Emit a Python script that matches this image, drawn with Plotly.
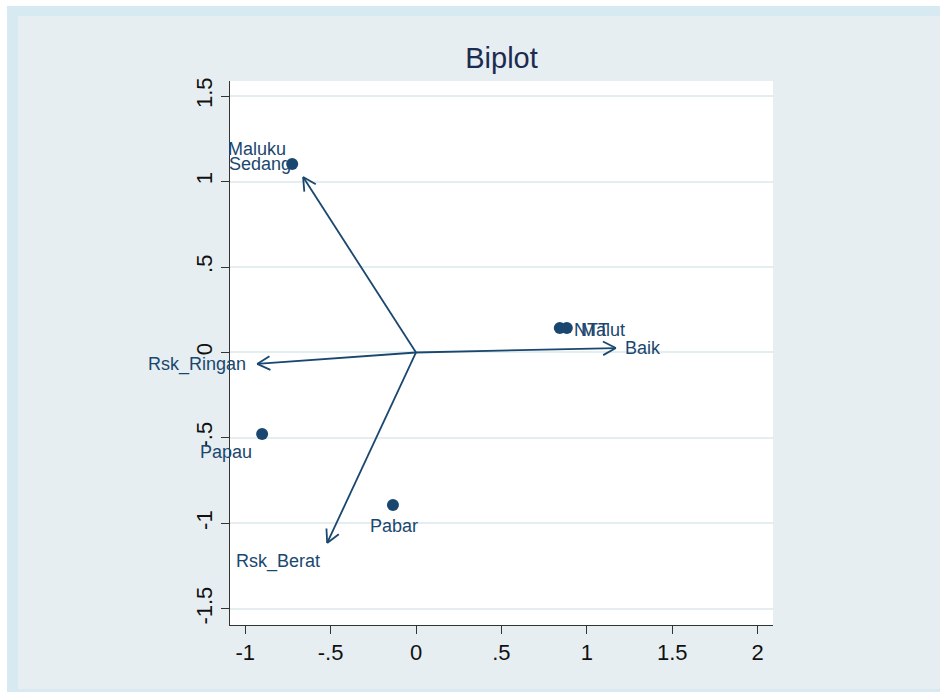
import numpy as np
import plotly.graph_objects as go

# ---- data ----
obs_names = ["Maluku", "NTT", "Malut", "Papau", "Pabar"]
obs_x = [-0.725, 0.842, 0.883, -0.901, -0.135]
obs_y = [1.102, 0.143, 0.143, -0.477, -0.892]

var_names = ["Baik", "Sedang", "Rsk_Ringan", "Rsk_Berat"]
var_x = [1.170, -0.661, -0.930, -0.520]
var_y = [0.026, 1.026, -0.067, -1.114]

x_tickvals = [-1, -0.5, 0, 0.5, 1, 1.5, 2]
x_ticktext = ["-1", "-.5", "0", ".5", "1", "1.5", "2"]
y_tickvals = [-1.5, -1, -0.5, 0, 0.5, 1, 1.5]
y_ticktext = ["-1.5", "-1", "-.5", "0", ".5", "1", "1.5"]

# ---- label placement (style) : (xanchor, yanchor, xshift, yshift) ----
obs_label_style = {
    "Maluku": ("right", "middle", -4, 15),
    "NTT": ("left", "middle", 12, -2),
    "Malut": ("left", "middle", 12, -2),
    "Papau": ("right", "middle", -8, -18),
    "Pabar": ("center", "middle", 1, -21),
}
var_label_style = {
    "Baik": ("left", "middle", 7, 0),
    "Sedang": ("right", "middle", -10, 13),
    "Rsk_Ringan": ("right", "middle", -9, -1),
    "Rsk_Berat": ("right", "middle", -5, -19),
}

NAVY = "#1a476f"
FONT = "Liberation Sans, Arial, Helvetica, sans-serif"

fig = go.Figure()

# arrows (shafts)
for vx, vy in zip(var_x, var_y):
    fig.add_trace(go.Scatter(x=[0, vx], y=[0, vy], mode="lines",
                             line=dict(color=NAVY, width=1.8),
                             hoverinfo="skip", showlegend=False))
    # open V arrowhead derived from the vector direction
    L = 0.085
    ang = np.deg2rad(28)
    d = np.array([vx, vy]) / np.hypot(vx, vy)
    back = -d
    hx, hy = [], []
    for s in (ang, -ang):
        r = np.array([back[0] * np.cos(s) - back[1] * np.sin(s),
                      back[0] * np.sin(s) + back[1] * np.cos(s)])
        hx += [vx + L * r[0], vx, None]
        hy += [vy + L * r[1], vy, None]
    fig.add_trace(go.Scatter(x=hx, y=hy, mode="lines",
                             line=dict(color=NAVY, width=1.8),
                             hoverinfo="skip", showlegend=False))

# observation points
fig.add_trace(go.Scatter(x=obs_x, y=obs_y, mode="markers",
                         marker=dict(color=NAVY, size=12),
                         hoverinfo="text", text=obs_names, showlegend=False))

annotations = []
for n, x, y in zip(obs_names, obs_x, obs_y):
    xa, ya, xs, ys = obs_label_style[n]
    annotations.append(dict(x=x, y=y, text=n, showarrow=False, xanchor=xa, yanchor=ya,
                            xshift=xs, yshift=ys,
                            font=dict(family=FONT, size=18, color=NAVY)))
for n, x, y in zip(var_names, var_x, var_y):
    xa, ya, xs, ys = var_label_style[n]
    annotations.append(dict(x=x, y=y, text=n, showarrow=False, xanchor=xa, yanchor=ya,
                            xshift=xs, yshift=ys,
                            font=dict(family=FONT, size=18, color=NAVY)))

# frame / background bands (in paper coords of plot domain)
L_PX, R_PX, T_PX, B_PX = 230, 773, 81, 625
W_PX, H_PX = 940, 692
def px(xp):
    return (xp - L_PX) / (R_PX - L_PX)
def py(yp):
    return (B_PX - yp) / (B_PX - T_PX)

BAND = "#d8eaf1"
shapes = [
    # white strips at top/left
    dict(type="rect", xref="paper", yref="paper", x0=px(0), x1=px(W_PX), y0=py(0), y1=py(6),
         fillcolor="white", line=dict(width=0), layer="below"),
    dict(type="rect", xref="paper", yref="paper", x0=px(0), x1=px(7), y0=py(0), y1=py(H_PX),
         fillcolor="white", line=dict(width=0), layer="below"),
    # bluish frame
    dict(type="rect", xref="paper", yref="paper", x0=px(7), x1=px(W_PX), y0=py(6), y1=py(16),
         fillcolor=BAND, line=dict(width=0), layer="below"),
    dict(type="rect", xref="paper", yref="paper", x0=px(7), x1=px(18), y0=py(6), y1=py(H_PX),
         fillcolor=BAND, line=dict(width=0), layer="below"),
    dict(type="rect", xref="paper", yref="paper", x0=px(7), x1=px(W_PX), y0=py(689), y1=py(H_PX),
         fillcolor=BAND, line=dict(width=0), layer="below"),
]

fig.update_layout(
    width=W_PX, height=H_PX,
    margin=dict(l=L_PX, r=W_PX - R_PX, t=T_PX, b=H_PX - B_PX, pad=0),
    paper_bgcolor="#e6eef1",
    plot_bgcolor="white",
    title=dict(text="Biplot", x=(L_PX + R_PX) / 2 / W_PX, xanchor="center",
               y=1 - 58 / H_PX, yanchor="middle",
               font=dict(family=FONT, size=29, color="#1c2b50")),
    annotations=annotations,
    shapes=shapes,
    showlegend=False,
)

fig.update_xaxes(range=[-1.089, 2.090], tickvals=x_tickvals, ticktext=x_ticktext,
                 showgrid=False, zeroline=False, showline=True, linecolor="#333333",
                 linewidth=1, ticks="outside", ticklen=8, tickcolor="#333333",
                 tickfont=dict(family=FONT, size=22, color="#111111"))
fig.update_yaxes(range=[-1.594, 1.588], tickvals=y_tickvals, ticktext=y_ticktext,
                 showgrid=True, gridcolor="#e4edf0", gridwidth=1.5,
                 zeroline=False, showline=True, linecolor="#333333",
                 linewidth=1, ticks="outside", ticklen=8, tickcolor="#333333",
                 tickangle=-90,
                 tickfont=dict(family=FONT, size=22, color="#111111"))

fig.write_html("out.html", config={"displayModeBar": False},
               post_script="document.body.style.margin='0';document.body.style.overflow='hidden';")
